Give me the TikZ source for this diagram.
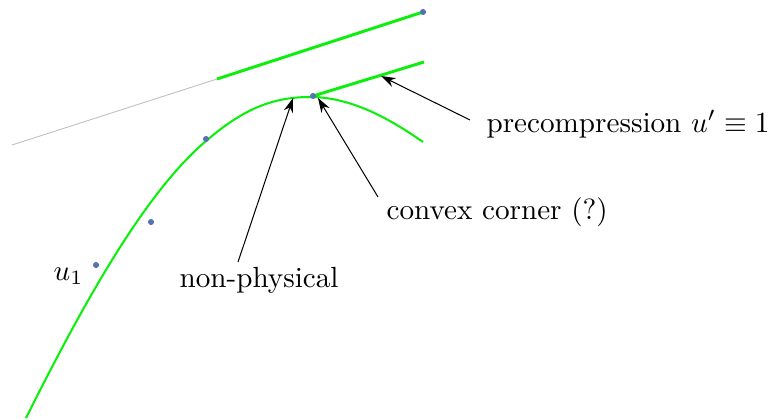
\documentclass[tikz,border=0pt]{standalone}
\usetikzlibrary{arrows.meta}
\definecolor{dotblue}{RGB}{85,115,175}
\definecolor{lgreen}{RGB}{10,240,10}
\tikzset{
  px/.style={x=0.343pt,y=-0.343pt},
  thickgreen/.style={draw=lgreen,line width=1.0pt},
  curvegreen/.style={draw=lgreen,line width=0.7pt},
  pt/.style={circle,fill=dotblue,inner sep=0pt,minimum size=2.1pt},
  lab/.style={inner sep=0pt,anchor=base west},
  arr/.style={draw=black,line width=0.35pt,-{Stealth[length=5pt,width=3.3pt]}}
}
\begin{document}
\begin{tikzpicture}[px]
\useasboundingbox (0,0) rectangle (775,419);
% coordinates
\coordinate (g0) at (12,145);
\coordinate (g1) at (217,79);
\coordinate (g2) at (423,12);
\coordinate (t0) at (313,96);
\coordinate (t1) at (424,62);
\coordinate (c0) at (26,418);
\coordinate (c1) at (206,141);
\coordinate (c2) at (310,97);
\coordinate (c3) at (423,142);
% lines
\draw[gray!50,line width=0.3pt] (g0) -- (g1);
\draw[thickgreen] (g1) -- (g2);
\draw[thickgreen] (t0) -- (t1);
% curve
\draw[curvegreen] (c0) .. controls (86,298) and (146,192) .. (c1)
  .. controls (241,111) and (270,97) .. (c2)
  .. controls (350,97) and (388,117.5) .. (c3);
% dots
\node[pt] (d1) at (96,265) {};
\node[pt] (d2) at (151,222) {};
\node[pt] (d3) at (206,139) {};
\node[pt] (d4) at (313,96) {};
\node[pt] (d5) at (423,12) {};
% labels
\node[lab] (u1) at (53,280) {$u_1$};
\node[lab] (np) at (179,287) {non-physical};
\node[lab] (cc) at (386,219) {convex corner (?)};
\node[lab] (pc) at (486,132) {precompression $u'\equiv 1$};
% arrow targets
\coordinate (a1) at (293,98);
\coordinate (a2) at (318,98);
\coordinate (a3) at (381,76);
\coordinate (s1) at (238,262);
\coordinate (s2) at (378,197);
\coordinate (s3) at (470,120);
\draw[arr] (s1) -- (a1);
\draw[arr] (s2) -- (a2);
\draw[arr] (s3) -- (a3);
\end{tikzpicture}
\end{document}
